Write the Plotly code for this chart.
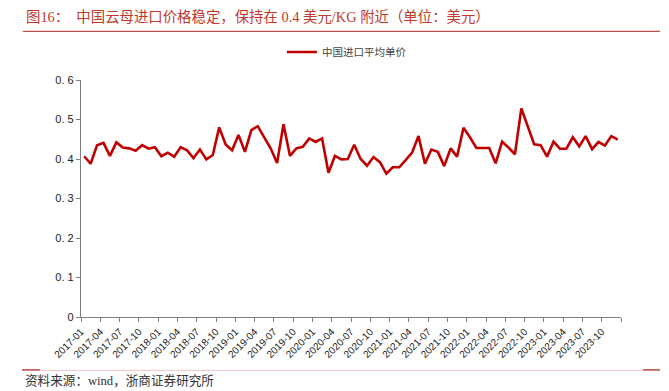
import plotly.graph_objects as go

months = [f"{y}-{m:02d}" for y in range(2017, 2024) for m in range(1, 13)]

prices = [
    0.407, 0.388, 0.435, 0.441, 0.408, 0.442, 0.429, 0.427, 0.421, 0.435, 0.426, 0.430,
    0.407, 0.416, 0.406, 0.430, 0.422, 0.402, 0.424, 0.399, 0.410, 0.480, 0.437, 0.422,
    0.461, 0.418, 0.473, 0.483, 0.455, 0.427, 0.390, 0.488, 0.408, 0.427, 0.431, 0.452,
    0.443, 0.452, 0.365, 0.408, 0.399, 0.400, 0.436, 0.400, 0.383, 0.405, 0.392, 0.363,
    0.379, 0.379, 0.397, 0.416, 0.458, 0.388, 0.424, 0.418, 0.382, 0.427, 0.406, 0.479,
    0.455, 0.428, 0.428, 0.428, 0.389, 0.444, 0.429, 0.412, 0.528, 0.482, 0.437, 0.435,
    0.406, 0.444, 0.426, 0.426, 0.455, 0.432, 0.458, 0.425, 0.443, 0.434, 0.458, 0.449,
]

tick_labels = [
    "2017-01", "2017-04", "2017-07", "2017-10",
    "2018-01", "2018-04", "2018-07", "2018-10",
    "2019-01", "2019-04", "2019-07", "2019-10",
    "2020-01", "2020-04", "2020-07", "2020-10",
    "2021-01", "2021-04", "2021-07", "2021-10",
    "2022-01", "2022-04", "2022-07", "2022-10",
    "2023-01", "2023-04", "2023-07", "2023-10", "",
]

y_ticks = [0, 0.1, 0.2, 0.3, 0.4, 0.5, 0.6]
y_tick_text = ["0", "0. 1", "0. 2", "0. 3", "0. 4", "0. 5", "0. 6"]

x_idx = list(range(len(months)))
tick_pos = [i * 3 - 0.5 for i in range(len(tick_labels))]

fig = go.Figure()
fig.add_trace(go.Scatter(
    x=x_idx, y=prices, mode="lines", name="中国进口平均单价",
    line=dict(color="#C00000", width=2.6),
    customdata=months,
    hovertemplate="%{customdata}: %{y}<extra></extra>",
))

fig.update_layout(
    width=669, height=391,
    margin=dict(l=81, r=48, t=80, b=74),
    paper_bgcolor="white", plot_bgcolor="white",
    font=dict(family="Liberation Sans, Noto Sans CJK SC", color="#222"),
    showlegend=True,
    legend=dict(
        orientation="h", x=0.372, y=1.118, xanchor="left", yanchor="middle",
        font=dict(size=10.5, family="Noto Sans CJK SC", color="#444"),
        itemwidth=30, bgcolor="rgba(0,0,0,0)",
    ),
    xaxis=dict(
        range=[-0.5, len(months) - 0.5], automargin=False,
        tickmode="array", tickvals=tick_pos, ticktext=tick_labels,
        tickangle=-45, tickfont=dict(size=10, color="#222"),
        showline=True, linecolor="#7f7f7f", linewidth=1.2,
        ticks="outside", ticklen=4, tickcolor="#7f7f7f",
        showgrid=False, zeroline=False,
    ),
    yaxis=dict(
        range=[0, 0.6], automargin=False,
        tickmode="array", tickvals=y_ticks, ticktext=y_tick_text,
        tickfont=dict(size=11, color="#222"),
        showline=True, linecolor="#7f7f7f", linewidth=1.2,
        ticks="outside", ticklen=4, tickcolor="#7f7f7f",
        showgrid=False, zeroline=False,
    ),
    annotations=[
        dict(
            text="图16：  中国云母进口价格稳定，保持在 0.4 美元/KG 附近（单位：美元）",
            xref="paper", yref="paper",
            x=(24 - 81) / 540, y=(316.7 - 17) / 236.7,
            xanchor="left", yanchor="middle", showarrow=False,
            font=dict(size=14.4, color="#C0392B", family="Liberation Serif, Noto Sans CJK SC"),
        ),
        dict(
            text="资料来源：wind，浙商证券研究所",
            xref="paper", yref="paper",
            x=(23 - 81) / 540, y=(316.7 - 380) / 236.7,
            xanchor="left", yanchor="middle", showarrow=False,
            font=dict(size=12.6, color="#333", family="Liberation Serif, Noto Sans CJK SC"),
        ),
    ],
    shapes=[
        dict(type="line", xref="paper", yref="paper",
             x0=(23 - 81) / 540, x1=(660 - 81) / 540,
             y0=(316.7 - 31.5) / 236.7, y1=(316.7 - 31.5) / 236.7,
             line=dict(color="#C0504D", width=1.2)),
        dict(type="line", xref="paper", yref="paper",
             x0=(22 - 81) / 540, x1=(660 - 81) / 540,
             y0=(316.7 - 370) / 236.7, y1=(316.7 - 370) / 236.7,
             line=dict(color="#F2C4C8", width=1)),
        dict(type="line", xref="paper", yref="paper",
             x0=(22 - 81) / 540, x1=(40 - 81) / 540,
             y0=(316.7 - 369.5) / 236.7, y1=(316.7 - 369.5) / 236.7,
             line=dict(color="#C0504D", width=1.5)),
        dict(type="line", xref="paper", yref="paper",
             x0=(643 - 81) / 540, x1=(660 - 81) / 540,
             y0=(316.7 - 369.5) / 236.7, y1=(316.7 - 369.5) / 236.7,
             line=dict(color="#C0504D", width=1.5)),
    ],
)

fig.write_html(
    "out.html",
    config={"displayModeBar": False},
    post_script="document.body.style.margin='0';document.body.style.padding='0';",
)
